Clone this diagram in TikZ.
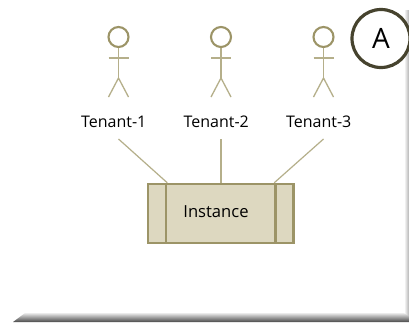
\documentclass[tikz,border=0pt]{standalone}
\usepackage{fontspec}
\setmainfont{Open Sans}
\usetikzlibrary{calc}
\definecolor{olive}{HTML}{9C9467}
\definecolor{oliveL}{HTML}{B5AF8A}
\definecolor{fillbox}{HTML}{DDD8C0}
\tikzset{
  actorhead/.style={circle,draw=olive,line width=2.1pt,minimum size=20pt,inner sep=0pt,fill=white},
  limb/.style={draw=oliveL,line width=1.3pt},
  wire/.style={draw=oliveL,line width=1.2pt},
  lab/.style={font=\fontsize{16pt}{18pt}\selectfont,text=black,inner sep=0pt,anchor=center},
  boxpart/.style={draw=olive,line width=2.5pt,fill=fillbox,inner sep=0pt,minimum height=59pt},
}
\begin{document}
\begin{tikzpicture}[x=1pt,y=-1pt]
\useasboundingbox (0,0) rectangle (409,322);
\fill[white] (0,0) rectangle (409,322);
% shadow frame
\shade[top color=black!8,bottom color=black!72,middle color=black!40] (25,313) -- (409,313) -- (409,322) -- (13,322) -- cycle;
\shade[left color=white,right color=black!30] (404,10) -- (409,10) -- (409,316) -- (404,313) -- cycle;
% actors
\foreach \n/\x in {1/118.5,2/221,3/323.5}{
  \node[actorhead] (h\n) at (\x,37) {};
  \coordinate (hip\n) at (\x,78);
  \draw[limb] (h\n.south) -- (hip\n);
  \draw[limb] (\x-10,58) -- (\x+10,58);
  \draw[limb] (\x-10,97) -- (hip\n) -- (\x+10,97);
  \node[lab] (t\n) at (\x-4.8,122) {Tenant-\n};
  \coordinate (s\n) at (\x,139);
}
% instance
\node[boxpart,minimum width=127pt] (main) at (221,213.5) {};
\node[boxpart,minimum width=18pt] (lbar) at (157,213.5) {};
\node[boxpart,minimum width=18pt] (rbar) at (284.5,213.5) {};
\node[lab,font=\fontsize{16.6pt}{18pt}\selectfont] (inst) at (216,212) {Instance};
\draw[wire] (s1) -- (lbar.north east);
\draw[wire] (s2) -- (main.north);
\draw[wire] (s3) -- (rbar.north west);
% badge
\node[circle,draw=black!55!olive,line width=3.2pt,fill=white,minimum size=58pt,inner sep=0pt,font=\fontsize{28pt}{32pt}\selectfont] (badge) at (381,38.5) {A};
\end{tikzpicture}
\end{document}
